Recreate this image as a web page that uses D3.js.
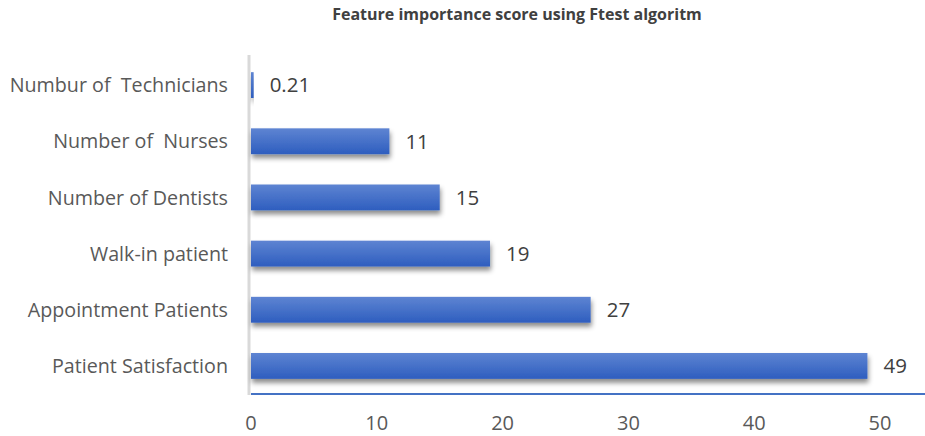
<!DOCTYPE html>
<html>
<head>
<meta charset="utf-8">
<script src="https://cdn.jsdelivr.net/npm/d3@7"></script>
<style>
  body { margin: 0; background: #fff; }
  text { font-family: "Open Sans", sans-serif; white-space: pre; }
</style>
</head>
<body>
<div id="canvas"></div>
<script>
"use strict"

/* Data */
let features = ["Numbur of  Technicians", "Number of  Nurses", "Number of Dentists",
                "Walk-in patient", "Appointment Patients", "Patient Satisfaction"];
let scores = [0.21, 11, 15, 19, 27, 49];
let scoreLabels = ["0.21", "11", "15", "19", "27", "49"];
let xTicks = [0, 10, 20, 30, 40, 50];

/* Drawing config */
let svgWidth = 925;
let svgHeight = 436;
let plotLeft = 251;
let plotTop = 57;
let plotBottom = 394;

let svg = d3.select("#canvas")
    .append("svg")
    .attr("width", svgWidth)
    .attr("height", svgHeight);

let defs = svg.append("defs");
let grad = defs.append("linearGradient")
    .attr("id", "barGrad")
    .attr("x1", 0).attr("y1", 0).attr("x2", 0).attr("y2", 1);
grad.append("stop").attr("offset", "0%").attr("stop-color", "#5e84d2");
grad.append("stop").attr("offset", "100%").attr("stop-color", "#2e5ebf");

let shadow = defs.append("filter")
    .attr("id", "shadow")
    .attr("x", "-5%").attr("y", "-30%").attr("width", "110%").attr("height", "190%");
shadow.append("feDropShadow")
    .attr("dx", 1).attr("dy", 4).attr("stdDeviation", 2.5)
    .attr("flood-color", "#000").attr("flood-opacity", 0.45);

let xScale = d3.scaleLinear()
    .domain([0, 50])
    .range([plotLeft, 880]);

let yScale = d3.scaleBand()
    .domain(features)
    .range([plotTop, plotBottom])
    .paddingInner(0.54)
    .paddingOuter(0.27);

/* Title */
svg.append("text")
    .attr("x", 517)
    .attr("y", 20)
    .attr("text-anchor", "middle")
    .attr("font-size", "16px")
    .attr("font-weight", "bold")
    .attr("fill", "#404040")
    .text("Feature importance score using Ftest algoritm");

/* Vertical gray axis */
svg.append("line")
    .attr("x1", plotLeft - 2).attr("x2", plotLeft - 2)
    .attr("y1", plotTop - 2).attr("y2", plotBottom + 1)
    .attr("stroke", "#d9d9d9")
    .attr("stroke-width", 3);

/* Bars */
svg.selectAll("rect.bar")
    .data(scores)
    .join("rect")
    .attr("class", "bar")
    .attr("x", xScale(0))
    .attr("y", (d, i) => yScale(features[i]))
    .attr("width", d => Math.max(1.5, xScale(d) - xScale(0)))
    .attr("height", yScale.bandwidth())
    .attr("fill", "url(#barGrad)")
    .attr("filter", "url(#shadow)");

/* Value labels */
svg.selectAll("text.val")
    .data(scores)
    .join("text")
    .attr("class", "val")
    .attr("x", d => xScale(d) + 16)
    .attr("y", (d, i) => yScale(features[i]) + yScale.bandwidth() / 2)
    .attr("dy", "0.36em")
    .attr("font-size", "20.5px")
    .attr("fill", "#404040")
    .text((d, i) => scoreLabels[i]);

/* Category labels */
svg.selectAll("text.cat")
    .data(features)
    .join("text")
    .attr("class", "cat")
    .attr("x", 228)
    .attr("y", d => yScale(d) + yScale.bandwidth() / 2)
    .attr("dy", "0.36em")
    .attr("text-anchor", "end")
    .attr("font-size", "19.7px")
    .attr("fill", "#595959")
    .text(d => d);

/* Horizontal blue axis line */
svg.append("line")
    .attr("x1", plotLeft).attr("x2", svgWidth)
    .attr("y1", plotBottom).attr("y2", plotBottom)
    .attr("stroke", "#4472c4")
    .attr("stroke-width", 2);

/* X tick labels */
svg.selectAll("text.tick")
    .data(xTicks)
    .join("text")
    .attr("class", "tick")
    .attr("x", d => xScale(d))
    .attr("y", 430)
    .attr("text-anchor", "middle")
    .attr("font-size", "20px")
    .attr("fill", "#595959")
    .text(d => d);
</script>
</body>
</html>
